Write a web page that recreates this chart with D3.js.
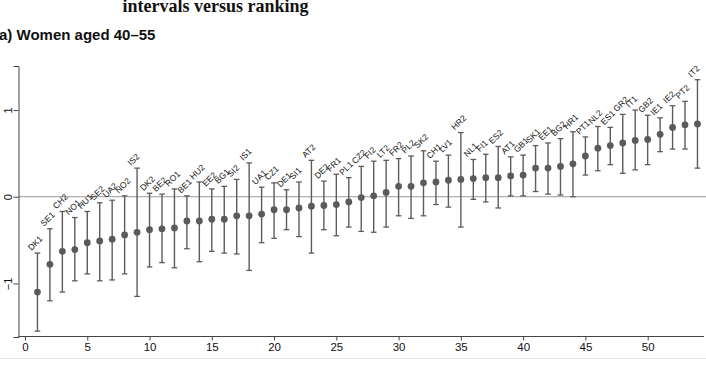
<!DOCTYPE html>
<html>
<head>
<meta charset="utf-8">
<script src="https://cdn.jsdelivr.net/npm/d3@7"></script>
<style>
  body { margin: 0; background: #fff; }
  svg { display: block; font-family: "Liberation Sans", Arial, sans-serif; }
</style>
</head>
<body>
<svg></svg>
<script>
var width = 706;
var height = 366;

// ranked estimates with 95% intervals
var labels = ['DK1','SE1','CH2','NO1','HU1','SE2','UA2','NO2','IS2','DK2',
  'BE2','RO1','BE1','HU2','EE2','BG1','SI2','IS1','UA1','CZ1',
  'DE1','SI1','AT2','DE2','FR1','PL1','CZ2','FI2','LT2','FR2',
  'PL2','SK2','CH1','LV1','HR2','NL1','FI1','ES2','AT1','GB1',
  'SK1','EE1','BG2','HR1','PT1','NL2','ES1','GR2','IT1','GB2',
  'IE1','IE2','PT2','IT2'];
var means = [-1.10,-0.78,-0.63,-0.61,-0.53,-0.51,-0.49,-0.44,-0.41,-0.38,
  -0.37,-0.36,-0.28,-0.28,-0.26,-0.26,-0.22,-0.22,-0.20,-0.15,
  -0.15,-0.13,-0.11,-0.10,-0.09,-0.06,-0.01,0.01,0.05,0.12,
  0.12,0.16,0.17,0.19,0.20,0.21,0.22,0.22,0.24,0.25,
  0.33,0.33,0.35,0.38,0.47,0.56,0.59,0.62,0.65,0.66,
  0.72,0.80,0.83,0.84];
var lower = [-1.55,-1.20,-1.10,-0.97,-0.89,-0.97,-0.96,-0.89,-1.15,-0.81,
  -0.76,-0.82,-0.60,-0.75,-0.63,-0.65,-0.66,-0.85,-0.53,-0.48,
  -0.38,-0.46,-0.65,-0.38,-0.45,-0.35,-0.40,-0.41,-0.35,-0.22,
  -0.25,-0.22,-0.09,-0.12,-0.35,-0.03,-0.06,-0.13,0.01,0.01,
  0.06,0.03,0.02,0.00,0.25,0.30,0.37,0.27,0.31,0.37,
  0.52,0.55,0.55,0.33];
var upper = [-0.65,-0.37,-0.17,-0.24,-0.17,-0.07,-0.04,0.01,0.33,0.04,
  0.03,0.09,0.01,0.17,0.09,0.12,0.20,0.39,0.11,0.16,
  0.08,0.17,0.42,0.18,0.26,0.22,0.35,0.41,0.42,0.44,
  0.47,0.53,0.41,0.48,0.74,0.43,0.49,0.58,0.46,0.48,
  0.59,0.62,0.67,0.75,0.69,0.81,0.80,0.95,1.00,0.94,
  0.91,1.05,1.10,1.35];
var xTicks = [0, 5, 10, 15, 20, 25, 30, 35, 40, 45, 50];
var yTicks = [-1, 0, 1];

var data = labels.map(function(d, i) {
  return { rank: i + 1, label: d, mean: means[i], lo: lower[i], hi: upper[i] };
});

var svg = d3.select('svg')
  .attr('width', width)
  .attr('height', height);

var x = d3.scaleLinear().domain([0, 54.5]).range([25, 703.7]);
var y = d3.scaleLinear().domain([-1.618, 1.508]).range([337, 66]);

// titles (top one is cropped in the source page)
svg.append('text')
  .attr('x', 215.5)
  .attr('y', 12)
  .attr('text-anchor', 'middle')
  .style('font-family', '"Liberation Serif", "Times New Roman", serif')
  .style('font-weight', 'bold')
  .style('font-size', '18px')
  .attr('fill', '#111')
  .text('intervals versus ranking');

svg.append('text')
  .attr('x', -1)
  .attr('y', 40)
  .style('font-weight', 'bold')
  .style('font-size', '15px')
  .attr('fill', '#111')
  .text('a) Women aged 40\u201355');

// zero line
svg.append('line')
  .attr('x1', 18).attr('x2', width)
  .attr('y1', y(0)).attr('y2', y(0))
  .attr('stroke', '#999').attr('stroke-width', 1);

// page edge line at the bottom
svg.append('line')
  .attr('x1', 0).attr('x2', width)
  .attr('y1', 358.5).attr('y2', 358.5)
  .attr('stroke', '#e6e6e6').attr('stroke-width', 1);

// axes
var yAxis = svg.append('g')
  .attr('transform', 'translate(18.5,0)')
  .call(d3.axisLeft(y).tickValues(yTicks).tickSize(5).tickFormat(d3.format('d')));
yAxis.select('.domain').attr('stroke', '#444');
yAxis.selectAll('.tick line').attr('stroke', '#444');
yAxis.selectAll('.tick text')
  .attr('x', 0).attr('dy', 0)
  .attr('transform', 'translate(-11,0) rotate(-90)')
  .attr('text-anchor', 'middle')
  .attr('dominant-baseline', 'central')
  .style('font-size', '11px')
  .attr('fill', '#111');

var xAxis = svg.append('g')
  .attr('transform', 'translate(0,336.5)')
  .call(d3.axisBottom(x).tickValues(xTicks).tickSize(4));
xAxis.select('.domain').remove();
xAxis.selectAll('.tick line').attr('stroke', '#444');
xAxis.selectAll('.tick text')
  .attr('y', 6)
  .style('font-size', '11.5px')
  .attr('fill', '#111');
svg.append('line')
  .attr('x1', 18.5).attr('x2', 704)
  .attr('y1', 336.5).attr('y2', 336.5)
  .attr('stroke', '#444');

// error bars
var bars = svg.append('g').attr('class', 'bars')
  .selectAll('g')
  .data(data)
  .enter().append('g');

bars.append('line')
  .attr('x1', function(d) { return x(d.rank); })
  .attr('x2', function(d) { return x(d.rank); })
  .attr('y1', function(d) { return y(d.lo); })
  .attr('y2', function(d) { return y(d.hi); })
  .attr('stroke', '#5c5c5c').attr('stroke-width', 1.4);

bars.selectAll('line.cap')
  .data(function(d) { return [[d.rank, d.lo], [d.rank, d.hi]]; })
  .enter().append('line')
  .attr('class', 'cap')
  .attr('x1', function(d) { return x(d[0]) - 2.8; })
  .attr('x2', function(d) { return x(d[0]) + 2.8; })
  .attr('y1', function(d) { return y(d[1]); })
  .attr('y2', function(d) { return y(d[1]); })
  .attr('stroke', '#5c5c5c').attr('stroke-width', 1.3);

bars.append('circle')
  .attr('cx', function(d) { return x(d.rank); })
  .attr('cy', function(d) { return y(d.mean); })
  .attr('r', 3.4)
  .attr('fill', '#5a5a5a');

bars.append('text')
  .attr('transform', function(d) {
    return 'translate(' + (x(d.rank) - 6) + ',' + (y(d.hi) - 2) + ') rotate(-45)';
  })
  .style('font-size', '8.5px')
  .attr('fill', '#111')
  .text(function(d) { return d.label; });
</script>
</body>
</html>
